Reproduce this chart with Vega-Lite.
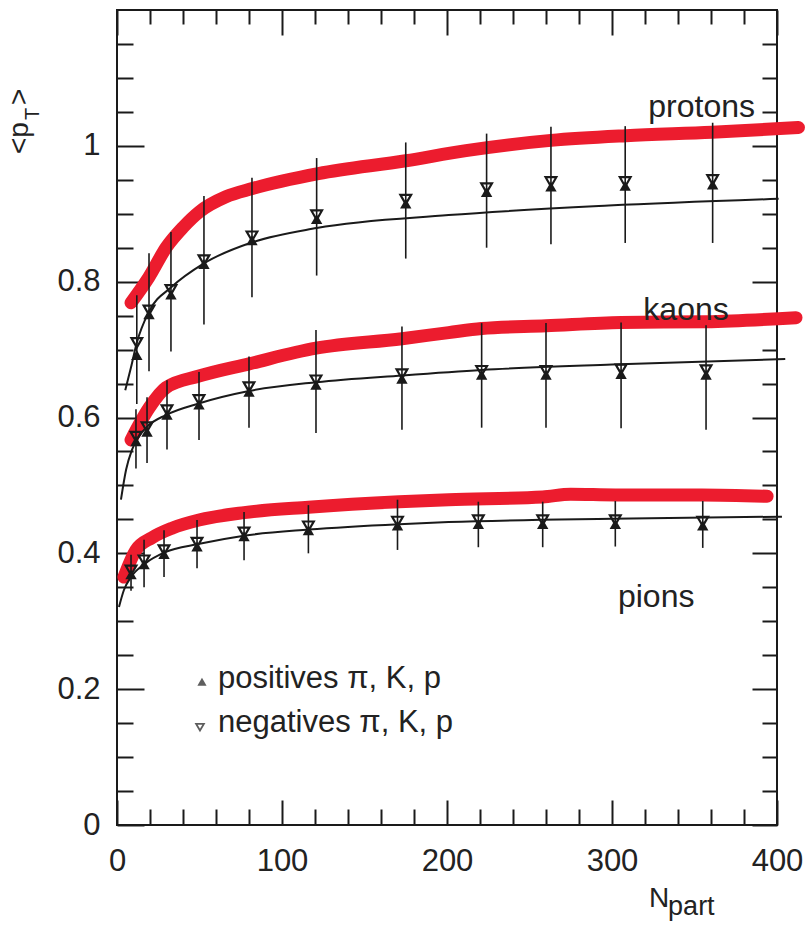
{
  "$schema": "https://vega.github.io/schema/vega-lite/v6.json",
  "width": 660,
  "height": 815,
  "autosize": {"type": "none"},
  "padding": {"left": 117, "top": 10, "right": 33, "bottom": 108},
  "background": "white",
  "config": {
    "view": {"stroke": "#1a1a1a", "strokeWidth": 2},
    "axis": {"domain": false, "grid": false, "tickColor": "#1a1a1a", "tickWidth": 2, "labelFont": "Liberation Sans", "labelFontSize": 31, "labelColor": "#222222", "labelOverlap": false, "labelFlush": false},
    "text": {"font": "Liberation Sans", "color": "#222222"}
  },
  "datasets": {
    "pts": [
      {"particle": "protons", "Npart": 12, "pos": 0.692, "neg": 0.71, "lo": 0.62, "hi": 0.78},
      {"particle": "protons", "Npart": 19.4, "pos": 0.752, "neg": 0.758, "lo": 0.668, "hi": 0.842},
      {"particle": "protons", "Npart": 32.7, "pos": 0.781, "neg": 0.788, "lo": 0.697, "hi": 0.873},
      {"particle": "protons", "Npart": 52.7, "pos": 0.826, "neg": 0.832, "lo": 0.737, "hi": 0.926},
      {"particle": "protons", "Npart": 81.8, "pos": 0.861, "neg": 0.867, "lo": 0.777, "hi": 0.953},
      {"particle": "protons", "Npart": 121, "pos": 0.892, "neg": 0.898, "lo": 0.809, "hi": 0.982},
      {"particle": "protons", "Npart": 175, "pos": 0.915, "neg": 0.921, "lo": 0.834, "hi": 1.005},
      {"particle": "protons", "Npart": 224, "pos": 0.932, "neg": 0.938, "lo": 0.85, "hi": 1.018},
      {"particle": "protons", "Npart": 263, "pos": 0.94, "neg": 0.947, "lo": 0.855, "hi": 1.028},
      {"particle": "protons", "Npart": 308, "pos": 0.941, "neg": 0.947, "lo": 0.857, "hi": 1.029},
      {"particle": "protons", "Npart": 361, "pos": 0.943, "neg": 0.95, "lo": 0.857, "hi": 1.034},
      {"particle": "kaons", "Npart": 11.5, "pos": 0.565, "neg": 0.572, "lo": 0.525, "hi": 0.612},
      {"particle": "kaons", "Npart": 18.2, "pos": 0.579, "neg": 0.586, "lo": 0.533, "hi": 0.63},
      {"particle": "kaons", "Npart": 30.3, "pos": 0.604, "neg": 0.611, "lo": 0.553, "hi": 0.655},
      {"particle": "kaons", "Npart": 49.7, "pos": 0.619, "neg": 0.626, "lo": 0.567, "hi": 0.667},
      {"particle": "kaons", "Npart": 80, "pos": 0.638, "neg": 0.645, "lo": 0.585, "hi": 0.69},
      {"particle": "kaons", "Npart": 120.6, "pos": 0.648, "neg": 0.655, "lo": 0.577, "hi": 0.729},
      {"particle": "kaons", "Npart": 172.7, "pos": 0.657, "neg": 0.664, "lo": 0.582, "hi": 0.734},
      {"particle": "kaons", "Npart": 221, "pos": 0.663, "neg": 0.669, "lo": 0.585, "hi": 0.739},
      {"particle": "kaons", "Npart": 260, "pos": 0.663, "neg": 0.669, "lo": 0.585, "hi": 0.739},
      {"particle": "kaons", "Npart": 305.5, "pos": 0.664, "neg": 0.671, "lo": 0.584, "hi": 0.74},
      {"particle": "kaons", "Npart": 357, "pos": 0.663, "neg": 0.67, "lo": 0.582, "hi": 0.736},
      {"particle": "pions", "Npart": 8.5, "pos": 0.369, "neg": 0.375, "lo": 0.345, "hi": 0.398},
      {"particle": "pions", "Npart": 16.4, "pos": 0.384, "neg": 0.39, "lo": 0.35, "hi": 0.42},
      {"particle": "pions", "Npart": 28.5, "pos": 0.399, "neg": 0.405, "lo": 0.365, "hi": 0.434},
      {"particle": "pions", "Npart": 48.5, "pos": 0.41, "neg": 0.416, "lo": 0.378, "hi": 0.449},
      {"particle": "pions", "Npart": 77, "pos": 0.425, "neg": 0.431, "lo": 0.39, "hi": 0.461},
      {"particle": "pions", "Npart": 116, "pos": 0.434, "neg": 0.44, "lo": 0.4, "hi": 0.471},
      {"particle": "pions", "Npart": 170, "pos": 0.441, "neg": 0.447, "lo": 0.405, "hi": 0.479},
      {"particle": "pions", "Npart": 219, "pos": 0.443, "neg": 0.449, "lo": 0.409, "hi": 0.476},
      {"particle": "pions", "Npart": 258, "pos": 0.443, "neg": 0.449, "lo": 0.409, "hi": 0.476},
      {"particle": "pions", "Npart": 302, "pos": 0.443, "neg": 0.449, "lo": 0.41, "hi": 0.477},
      {"particle": "pions", "Npart": 355, "pos": 0.441, "neg": 0.447, "lo": 0.408, "hi": 0.477}
    ],
    "fits": [
      {"particle": "protons", "Npart": 5, "v": 0.64},
      {"particle": "protons", "Npart": 8.5, "v": 0.674},
      {"particle": "protons", "Npart": 12, "v": 0.71},
      {"particle": "protons", "Npart": 19.4, "v": 0.756},
      {"particle": "protons", "Npart": 33, "v": 0.792},
      {"particle": "protons", "Npart": 52.7, "v": 0.827},
      {"particle": "protons", "Npart": 82, "v": 0.858},
      {"particle": "protons", "Npart": 121, "v": 0.879},
      {"particle": "protons", "Npart": 201, "v": 0.898},
      {"particle": "protons", "Npart": 298, "v": 0.912},
      {"particle": "protons", "Npart": 401, "v": 0.922},
      {"particle": "kaons", "Npart": 2.4, "v": 0.479},
      {"particle": "kaons", "Npart": 5.5, "v": 0.523},
      {"particle": "kaons", "Npart": 9, "v": 0.552},
      {"particle": "kaons", "Npart": 13, "v": 0.571},
      {"particle": "kaons", "Npart": 18, "v": 0.586},
      {"particle": "kaons", "Npart": 30, "v": 0.604},
      {"particle": "kaons", "Npart": 50, "v": 0.621},
      {"particle": "kaons", "Npart": 80, "v": 0.639},
      {"particle": "kaons", "Npart": 121, "v": 0.652},
      {"particle": "kaons", "Npart": 173, "v": 0.662},
      {"particle": "kaons", "Npart": 221, "v": 0.67},
      {"particle": "kaons", "Npart": 300, "v": 0.678},
      {"particle": "kaons", "Npart": 405, "v": 0.686},
      {"particle": "pions", "Npart": 1.2, "v": 0.321},
      {"particle": "pions", "Npart": 4.2, "v": 0.346},
      {"particle": "pions", "Npart": 8.5, "v": 0.365},
      {"particle": "pions", "Npart": 17.6, "v": 0.386},
      {"particle": "pions", "Npart": 28.5, "v": 0.401},
      {"particle": "pions", "Npart": 50, "v": 0.414},
      {"particle": "pions", "Npart": 77, "v": 0.426},
      {"particle": "pions", "Npart": 116, "v": 0.435},
      {"particle": "pions", "Npart": 171, "v": 0.443},
      {"particle": "pions", "Npart": 201, "v": 0.446},
      {"particle": "pions", "Npart": 300, "v": 0.451},
      {"particle": "pions", "Npart": 403, "v": 0.454}
    ],
    "red": [
      {"particle": "protons", "Npart": 8.5, "v": 0.769},
      {"particle": "protons", "Npart": 19.4, "v": 0.807},
      {"particle": "protons", "Npart": 30, "v": 0.851},
      {"particle": "protons", "Npart": 40, "v": 0.88},
      {"particle": "protons", "Npart": 50, "v": 0.903},
      {"particle": "protons", "Npart": 66, "v": 0.925},
      {"particle": "protons", "Npart": 82, "v": 0.937},
      {"particle": "protons", "Npart": 122, "v": 0.959},
      {"particle": "protons", "Npart": 175, "v": 0.978},
      {"particle": "protons", "Npart": 211.5, "v": 0.993},
      {"particle": "protons", "Npart": 263, "v": 1.008},
      {"particle": "protons", "Npart": 308.5, "v": 1.015},
      {"particle": "protons", "Npart": 360.6, "v": 1.02},
      {"particle": "protons", "Npart": 413, "v": 1.027},
      {"particle": "kaons", "Npart": 8.5, "v": 0.567},
      {"particle": "kaons", "Npart": 19.4, "v": 0.614},
      {"particle": "kaons", "Npart": 29.7, "v": 0.644},
      {"particle": "kaons", "Npart": 49.7, "v": 0.661},
      {"particle": "kaons", "Npart": 80, "v": 0.679},
      {"particle": "kaons", "Npart": 120.6, "v": 0.702},
      {"particle": "kaons", "Npart": 172.7, "v": 0.716},
      {"particle": "kaons", "Npart": 201, "v": 0.725},
      {"particle": "kaons", "Npart": 221, "v": 0.731},
      {"particle": "kaons", "Npart": 260, "v": 0.735},
      {"particle": "kaons", "Npart": 305.5, "v": 0.74},
      {"particle": "kaons", "Npart": 357, "v": 0.741},
      {"particle": "kaons", "Npart": 411.5, "v": 0.747},
      {"particle": "pions", "Npart": 4.2, "v": 0.365},
      {"particle": "pions", "Npart": 11.5, "v": 0.405},
      {"particle": "pions", "Npart": 21.2, "v": 0.423},
      {"particle": "pions", "Npart": 33.3, "v": 0.437},
      {"particle": "pions", "Npart": 49.7, "v": 0.449},
      {"particle": "pions", "Npart": 77, "v": 0.46},
      {"particle": "pions", "Npart": 116, "v": 0.468},
      {"particle": "pions", "Npart": 171, "v": 0.476},
      {"particle": "pions", "Npart": 201, "v": 0.479},
      {"particle": "pions", "Npart": 258, "v": 0.483},
      {"particle": "pions", "Npart": 275, "v": 0.487},
      {"particle": "pions", "Npart": 302, "v": 0.486},
      {"particle": "pions", "Npart": 354.5, "v": 0.486},
      {"particle": "pions", "Npart": 394, "v": 0.484}
    ]
  },
  "layer": [
    {
      "data": {"name": "red"},
      "mark": {"type": "line", "color": "#ec1c2e", "strokeWidth": 13, "strokeCap": "round", "strokeJoin": "round", "interpolate": "monotone", "clip": false},
      "encoding": {
        "x": {"field": "Npart", "type": "quantitative", "scale": {"domain": [0, 400], "nice": false, "zero": false},
          "axis": {"orient": "bottom", "title": null,
            "values": [0, 20, 40, 60, 80, 100, 120, 140, 160, 180, 200, 220, 240, 260, 280, 300, 320, 340, 360, 380, 400],
            "labelExpr": "datum.value % 100 === 0 ? datum.label : ''",
            "tickSize": {"condition": {"test": "datum.value % 100 === 0", "value": -25}, "value": -16},
            "labelPadding": 46}},
        "y": {"field": "v", "type": "quantitative", "scale": {"domain": [0, 1.2], "nice": false, "zero": false},
          "axis": {"orient": "left", "title": null,
            "values": [0, 0.05, 0.1, 0.15, 0.2, 0.25, 0.3, 0.35, 0.4, 0.45, 0.5, 0.55, 0.6, 0.65, 0.7, 0.75, 0.8, 0.85, 0.9, 0.95, 1, 1.05, 1.1, 1.15],
            "labelExpr": "abs(datum.value*5 - round(datum.value*5)) < 0.001 ? format(datum.value, '~g') : ''",
            "tickSize": {"condition": {"test": "abs(datum.value*5 - round(datum.value*5)) < 0.001", "value": -27}, "value": -16},
            "labelPadding": 44}},
        "detail": {"field": "particle"}
      }
    },
    {
      "data": {"name": "fits"},
      "mark": {"type": "line", "color": "#1a1a1a", "strokeWidth": 2, "interpolate": "monotone"},
      "encoding": {
        "x": {"field": "Npart", "type": "quantitative", "scale": {"domain": [0, 400], "nice": false, "zero": false},
          "axis": {"orient": "top", "title": null, "labels": false,
            "values": [0, 20, 40, 60, 80, 100, 120, 140, 160, 180, 200, 220, 240, 260, 280, 300, 320, 340, 360, 380, 400],
            "tickSize": {"condition": {"test": "datum.value % 100 === 0", "value": -25}, "value": -14}}},
        "y": {"field": "v", "type": "quantitative", "scale": {"domain": [0, 1.2], "nice": false, "zero": false},
          "axis": {"orient": "right", "title": null, "labels": false,
            "values": [0, 0.05, 0.1, 0.15, 0.2, 0.25, 0.3, 0.35, 0.4, 0.45, 0.5, 0.55, 0.6, 0.65, 0.7, 0.75, 0.8, 0.85, 0.9, 0.95, 1, 1.05, 1.1, 1.15],
            "tickSize": {"condition": {"test": "abs(datum.value*5 - round(datum.value*5)) < 0.001", "value": -25}, "value": -15}}},
        "detail": {"field": "particle"}
      }
    },
    {
      "data": {"name": "pts"},
      "mark": {"type": "rule", "color": "#1a1a1a", "strokeWidth": 1.6},
      "encoding": {
        "x": {"field": "Npart", "type": "quantitative", "scale": {"domain": [0, 400], "nice": false, "zero": false}, "axis": null},
        "y": {"field": "lo", "type": "quantitative", "scale": {"domain": [0, 1.2], "nice": false, "zero": false}, "axis": null},
        "y2": {"field": "hi"}
      }
    },
    {
      "data": {"name": "pts"},
      "mark": {"type": "point", "shape": "triangle-up", "filled": true, "color": "#1a1a1a", "size": 130, "opacity": 1},
      "encoding": {
        "x": {"field": "Npart", "type": "quantitative", "scale": {"domain": [0, 400], "nice": false, "zero": false}, "axis": null},
        "y": {"field": "pos", "type": "quantitative", "scale": {"domain": [0, 1.2], "nice": false, "zero": false}, "axis": null}
      }
    },
    {
      "data": {"name": "pts"},
      "mark": {"type": "point", "shape": "triangle-down", "filled": false, "color": "#1a1a1a", "strokeWidth": 2.2, "size": 115, "opacity": 1},
      "encoding": {
        "x": {"field": "Npart", "type": "quantitative", "scale": {"domain": [0, 400], "nice": false, "zero": false}, "axis": null},
        "y": {"field": "neg", "type": "quantitative", "scale": {"domain": [0, 1.2], "nice": false, "zero": false}, "axis": null}
      }
    },
    {
      "data": {"values": [{"label": "protons", "Npart": 322, "v": 1.043}, {"label": "kaons", "Npart": 319, "v": 0.744}, {"label": "pions", "Npart": 303.6, "v": 0.321}]},
      "mark": {"type": "text", "align": "left", "baseline": "alphabetic", "fontSize": 32},
      "encoding": {
        "x": {"field": "Npart", "type": "quantitative", "scale": {"domain": [0, 400], "nice": false, "zero": false}, "axis": null},
        "y": {"field": "v", "type": "quantitative", "scale": {"domain": [0, 1.2], "nice": false, "zero": false}, "axis": null},
        "text": {"field": "label"}
      }
    },
    {
      "data": {"values": [{"label": "positives π, K, p", "Npart": 61.2, "v": 0.202}, {"label": "negatives π, K, p", "Npart": 61.2, "v": 0.137}]},
      "mark": {"type": "text", "align": "left", "baseline": "alphabetic", "fontSize": 31},
      "encoding": {
        "x": {"field": "Npart", "type": "quantitative", "scale": {"domain": [0, 400], "nice": false, "zero": false}, "axis": null},
        "y": {"field": "v", "type": "quantitative", "scale": {"domain": [0, 1.2], "nice": false, "zero": false}, "axis": null},
        "text": {"field": "label"}
      }
    },
    {
      "data": {"values": [{"Npart": 51.5, "v": 0.211}]},
      "mark": {"type": "point", "shape": "triangle-up", "filled": true, "color": "#1a1a1a", "size": 85},
      "encoding": {
        "x": {"field": "Npart", "type": "quantitative", "scale": {"domain": [0, 400], "nice": false, "zero": false}, "axis": null},
        "y": {"field": "v", "type": "quantitative", "scale": {"domain": [0, 1.2], "nice": false, "zero": false}, "axis": null}
      }
    },
    {
      "data": {"values": [{"Npart": 50.3, "v": 0.144}]},
      "mark": {"type": "point", "shape": "triangle-down", "filled": false, "color": "#1a1a1a", "strokeWidth": 1.8, "size": 60},
      "encoding": {
        "x": {"field": "Npart", "type": "quantitative", "scale": {"domain": [0, 400], "nice": false, "zero": false}, "axis": null},
        "y": {"field": "v", "type": "quantitative", "scale": {"domain": [0, 1.2], "nice": false, "zero": false}, "axis": null}
      }
    },
    {
      "data": {"values": [{"label": "N", "Npart": 322.4, "v": -0.121}]},
      "mark": {"type": "text", "align": "left", "baseline": "alphabetic", "fontSize": 28},
      "encoding": {
        "x": {"field": "Npart", "type": "quantitative", "scale": {"domain": [0, 400], "nice": false, "zero": false}, "axis": null},
        "y": {"field": "v", "type": "quantitative", "scale": {"domain": [0, 1.2], "nice": false, "zero": false}, "axis": null},
        "text": {"field": "label"}
      }
    },
    {
      "data": {"values": [{"label": "part", "Npart": 334, "v": -0.132}]},
      "mark": {"type": "text", "align": "left", "baseline": "alphabetic", "fontSize": 27},
      "encoding": {
        "x": {"field": "Npart", "type": "quantitative", "scale": {"domain": [0, 400], "nice": false, "zero": false}, "axis": null},
        "y": {"field": "v", "type": "quantitative", "scale": {"domain": [0, 1.2], "nice": false, "zero": false}, "axis": null},
        "text": {"field": "label"}
      }
    },
    {
      "data": {"values": [{"label": "<p", "Npart": -53.9, "v": 1.035}]},
      "mark": {"type": "text", "align": "right", "baseline": "alphabetic", "angle": 270, "fontSize": 28},
      "encoding": {
        "x": {"field": "Npart", "type": "quantitative", "scale": {"domain": [0, 400], "nice": false, "zero": false}, "axis": null},
        "y": {"field": "v", "type": "quantitative", "scale": {"domain": [0, 1.2], "nice": false, "zero": false}, "axis": null},
        "text": {"field": "label"}
      }
    },
    {
      "data": {"values": [{"label": "T", "Npart": -47.5, "v": 1.038}]},
      "mark": {"type": "text", "align": "left", "baseline": "alphabetic", "angle": 270, "fontSize": 20},
      "encoding": {
        "x": {"field": "Npart", "type": "quantitative", "scale": {"domain": [0, 400], "nice": false, "zero": false}, "axis": null},
        "y": {"field": "v", "type": "quantitative", "scale": {"domain": [0, 1.2], "nice": false, "zero": false}, "axis": null},
        "text": {"field": "label"}
      }
    },
    {
      "data": {"values": [{"label": ">", "Npart": -53.9, "v": 1.06}]},
      "mark": {"type": "text", "align": "left", "baseline": "alphabetic", "angle": 270, "fontSize": 28},
      "encoding": {
        "x": {"field": "Npart", "type": "quantitative", "scale": {"domain": [0, 400], "nice": false, "zero": false}, "axis": null},
        "y": {"field": "v", "type": "quantitative", "scale": {"domain": [0, 1.2], "nice": false, "zero": false}, "axis": null},
        "text": {"field": "label"}
      }
    }
  ],
  "resolve": {"scale": {"x": "shared", "y": "shared"}, "axis": {"x": "independent", "y": "independent"}}
}
